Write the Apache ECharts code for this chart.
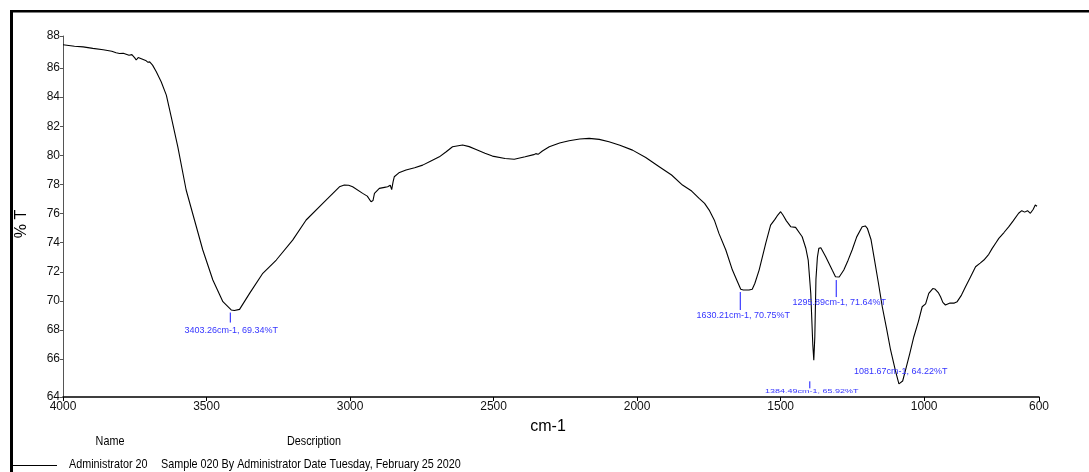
<!DOCTYPE html>
<html><head><meta charset="utf-8">
<script src="https://cdn.jsdelivr.net/npm/echarts@6/dist/echarts.min.js"></script>
<style>html,body{margin:0;padding:0;background:#fff}#c{width:1089px;height:472px}</style>
</head><body><div id="c"></div>
<script>
// Wavenumber (cm-1) and %T
const wavenumbers = [4000,3960,3930,3896,3860,3830,3815,3810,3803,3790,3770,3760,3750,3745,3738,3725,3712,3705,3698,3688,3675,3658,3640,3623,3600,3571,3542,3513,3478,3443,3414,3403,3385,3350,3304,3257,3200,3153,3095,3037,3020,3005,2991,2956,2940,2927,2920,2915,2898,2880,2869,2860,2855,2850,2846,2830,2805,2775,2747,2720,2689,2665,2643,2608,2585,2561,2530,2504,2460,2428,2390,2360,2353,2345,2330,2306,2270,2237,2200,2167,2132,2098,2060,2016,1970,1923,1880,1842,1810,1784,1765,1749,1730,1715,1691,1668,1650,1639,1630,1610,1599,1590,1575,1552,1535,1520,1510,1500,1492,1480,1465,1448,1425,1412,1404,1395,1388,1384.5,1381,1377,1372,1367,1360,1343,1320,1309,1296,1280,1265,1251,1235,1216,1205,1198,1185,1175,1160,1146,1130,1117,1100,1088,1081.7,1075,1065,1050,1036,1020,1007,995,984,970,963,950,943,935,926,910,895,885,870,856,840,821,805,792,775,763,750,740,722,705,690,671,660,650,640,630,620,613,607];
const transmittance = [87.6,87.5,87.45,87.35,87.25,87.15,87.05,87.15,87.0,87.02,86.88,86.92,86.7,86.55,86.72,86.62,86.52,86.4,86.42,86.2,85.74,85.06,84.14,82.65,80.59,77.62,75.56,73.5,71.44,69.95,69.38,69.34,69.42,70.52,71.9,72.81,74.18,75.56,76.7,77.84,77.96,77.95,77.84,77.39,77.2,76.81,76.9,77.39,77.73,77.8,77.84,77.95,77.65,78.2,78.53,78.8,78.99,79.15,79.33,79.6,79.9,80.25,80.59,80.71,80.6,80.41,80.15,79.95,79.78,79.73,79.9,80.05,80.12,80.07,80.3,80.59,80.85,81.0,81.12,81.17,81.1,80.93,80.7,80.36,79.85,79.22,78.65,77.96,77.55,77.05,76.7,76.24,75.5,74.64,73.5,72.12,71.3,70.8,70.75,70.75,70.8,71.2,72.12,73.96,75.21,75.6,75.9,76.13,75.9,75.5,75.1,75.05,74.41,73.6,72.81,70.5,67.0,65.92,67.5,71.5,73.0,73.61,73.65,73.04,72.1,71.66,71.64,72.12,72.8,73.5,74.4,75.1,75.15,74.99,74.2,73.04,71.3,69.6,68.0,66.63,65.2,64.3,64.22,64.5,65.25,66.4,67.54,68.6,69.6,69.8,70.52,70.85,70.82,70.55,70.29,69.9,69.72,69.85,69.85,69.95,70.4,70.98,71.6,72.35,72.6,72.81,73.2,73.61,74.0,74.3,74.7,75.1,75.5,76.02,76.2,76.1,76.2,76.02,76.3,76.59,76.5];

// Peak annotations
const peakWn = [3403.26, 1630.21, 1295.89, 1384.49, 1081.67];
const peakT = [69.34, 70.75, 71.64, 65.92, 64.22];
const peakLabels = ["3403.26cm-1, 69.34%T","1630.21cm-1, 70.75%T","1295.89cm-1, 71.64%T","1384.49cm-1, 65.92%T","1081.67cm-1, 64.22%T"];

// Axis ticks
const xTicks = [4000,3500,3000,2500,2000,1500,1000,600];
const yTicks = [64,66,68,70,72,74,76,78,80,82,84,86,88];
const yMin = 63.4, yMax = 88.2;

// layout of annotation marks (pixel offsets from the peak point)
const annoLayout = [
  {dx:-4, l1:2, l2:12, tx:-3, ty:19.5, sy:1},
  {dx:-3, l1:2, l2:20, tx:0, ty:26, sy:1},
  {dx:-3, l1:3, l2:20, tx:0, ty:25, sy:1},
  {dx:-4, l1:21, l2:28, tx:-2, ty:31, sy:0.6},
  {dx:0, l1:0, l2:0, tx:0, ty:-14, sy:1}
];

const FONT = "'Liberation Sans',Arial,sans-serif";
const yTickPos = yTicks.map(v => v === yTicks[0] ? yMin : (v === yTicks[yTicks.length-1] ? yMax : v));
const yLabelOf = v => { const i = yTickPos.findIndex(p => Math.abs(p - v) < 1e-6); return i >= 0 ? String(yTicks[i]) : ''; };

const chart = echarts.init(document.getElementById('c'), null, {renderer:'canvas'});
const footer = (text, x, y, align) => ({type:'text', x:x, y:y, scaleX:0.83,
  style:{text:text, font:"13px "+FONT, fill:'#000', align:align, verticalAlign:'middle'}});
chart.setOption({
  animation:false,
  backgroundColor:'#fff',
  grid:{left:63, right:50, top:36, bottom:75, containLabel:false},
  xAxis:{type:'value', inverse:true, min:600, max:4000,
    axisLine:{show:true, lineStyle:{color:'#000', width:1.5}},
    axisTick:{show:true, length:4, inside:false, customValues:xTicks, lineStyle:{color:'#000'}},
    axisLabel:{customValues:xTicks, formatter:v=>String(v), color:'#111', fontFamily:FONT, fontSize:12, margin:4},
    splitLine:{show:false}},
  yAxis:{type:'value', min:yMin, max:yMax,
    axisLine:{show:true, lineStyle:{color:'#555', width:1}},
    axisTick:{show:true, length:3, customValues:yTickPos, lineStyle:{color:'#555'}},
    axisLabel:{customValues:yTickPos, formatter:yLabelOf, color:'#111', fontFamily:FONT, fontSize:12, margin:3},
    splitLine:{show:false}},
  series:[
    {type:'line', data:wavenumbers.map((w,i)=>[w, transmittance[i]]), showSymbol:false, symbol:'none',
     lineStyle:{color:'#000', width:1.1}, z:2},
    {type:'custom', z:3, data:peakWn.map((w,i)=>[w, peakT[i], i]),
     renderItem:function(params, api){
       const i = api.value(2);
       const p = api.coord([api.value(0), api.value(1)]);
       const o = annoLayout[i];
       const children = [];
       if (o.l2 > o.l1) children.push({type:'line', shape:{x1:p[0]+o.dx, y1:p[1]+o.l1, x2:p[0]+o.dx, y2:p[1]+o.l2}, style:{stroke:'#1515ff', lineWidth:1}});
       children.push({type:'text', x:p[0]+o.tx, y:p[1]+o.ty, scaleY:o.sy, style:{text:peakLabels[i], fill:'#3535ff', font:"9px 'Liberation Sans',Arial,sans-serif", align:'center', verticalAlign:'middle'}});
       return {type:'group', children:children};
     }}
  ],
  graphic:[
    {type:'rect', shape:{x:10, y:10, width:3, height:462}, style:{fill:'#000'}},
    {type:'rect', shape:{x:10, y:10, width:1079, height:2.5}, style:{fill:'#000'}},
    {type:'text', x:22, y:2, style:{text:'cm-1', font:"18px 'Liberation Serif',serif", fill:'#000', align:'left', verticalAlign:'bottom'}},
    {type:'text', x:548, y:427, style:{text:'cm-1', font:"16px "+FONT, fill:'#000', align:'center', verticalAlign:'middle'}},
    {type:'text', x:22, y:224, rotation:Math.PI/2, style:{text:'% T', font:"16px "+FONT, fill:'#000', align:'center', verticalAlign:'middle'}},
    footer('Name', 110, 441, 'center'),
    footer('Description', 314, 441, 'center'),
    {type:'line', shape:{x1:13, y1:465.5, x2:57, y2:465.5}, style:{stroke:'#000', lineWidth:1}},
    footer('Administrator 20', 69, 464, 'left'),
    footer('Sample 020 By Administrator Date Tuesday, February 25 2020', 161, 464, 'left')
  ]
});
</script></body></html>
